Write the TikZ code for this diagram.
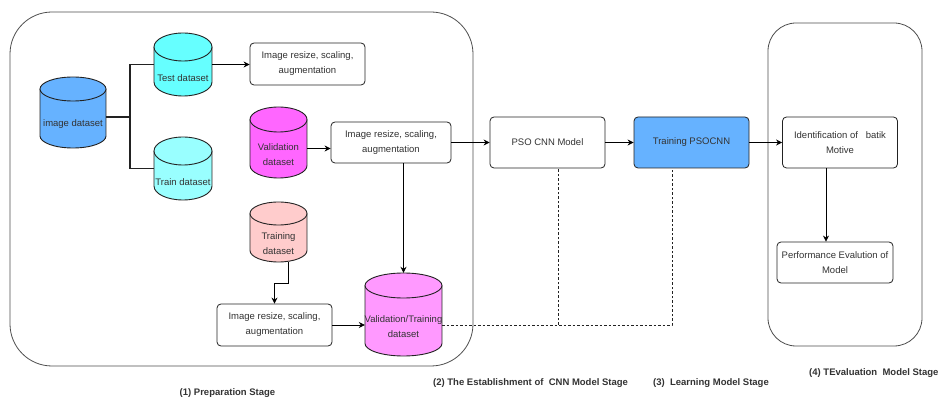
\documentclass[tikz,border=0pt]{standalone}
\usepackage{fontspec}
\setmainfont{Liberation Sans}
\usetikzlibrary{arrows.meta}

\definecolor{linec}{HTML}{222222}
\definecolor{txt}{HTML}{333333}
\definecolor{blueF}{HTML}{66B2FF}
\definecolor{cyanF}{HTML}{66FFFF}
\definecolor{lcyanF}{HTML}{99FFFF}
\definecolor{magF}{HTML}{FF66FF}
\definecolor{pinkF}{HTML}{FFCCCC}
\definecolor{lmagF}{HTML}{FF99FF}

% database cylinder: name, left, top, right, bottom, ellipse half-height, fill, label
\newcommand\dbcyl[8]{%
  \pgfmathsetmacro\cylcx{(#2+#4)/2}%
  \pgfmathsetmacro\cylrx{(#4-#2)/2}%
  \pgfmathsetmacro\cylta{#3+#6}%
  \pgfmathsetmacro\cylbe{#5-#6}%
  \pgfmathsetmacro\cylty{(#3+2*#6+#5)/2}%
  \pgfmathsetmacro\cylmy{(#3+#5)/2}%
  \pgfmathsetmacro\cylw{#4-#2}%
  \pgfmathsetmacro\cylh{#5-#3}%
  \fill[#7] (\cylcx,\cylbe) ellipse [x radius=\cylrx pt, y radius=#6 pt];
  \fill[#7] (#2,\cylta) rectangle (#4,\cylbe);
  \draw[cyledge] (#2,\cylta) -- (#2,\cylbe)
     arc [start angle=180, end angle=360, x radius=\cylrx pt, y radius=#6 pt]
     -- (#4,\cylta);
  \filldraw[cyledge, fill=#7] (\cylcx,\cylta) ellipse [x radius=\cylrx pt, y radius=#6 pt];
  \node[inner sep=0pt, minimum width=\cylw pt, minimum height=\cylh pt] (#1) at (\cylcx,\cylmy) {};
  \node[cyltext] (#1-t) at (\cylcx,\cylty) {#8};
}

\begin{document}
\begin{tikzpicture}[x=1pt, y=-1pt,
  cyledge/.style={draw=linec, line width=0.9pt},
  cyltext/.style={align=center, inner sep=0pt, text=txt, font=\fontsize{9.5}{15}\selectfont},
  procbox/.style={draw=linec, line width=0.8pt, rounded corners=4pt, fill=white,
    align=center, inner sep=0pt, text=txt, font=\fontsize{9.5}{15}\selectfont},
  stagebox/.style={draw=linec!80, line width=0.8pt},
  arr/.style={draw=black, line width=0.8pt, -{Stealth[length=6pt, width=6pt]}},
  trunk/.style={draw=linec, line width=1.8pt},
  dashln/.style={draw=linec, line width=0.8pt, dash pattern=on 2.5pt off 2pt},
  stagelabel/.style={inner sep=0pt, text=txt, font=\bfseries\fontsize{9.5}{11}\selectfont}]

\useasboundingbox (0,0) rectangle (938,398);
\fill[white] (0,0) rectangle (938,398);

% stage frames
\draw[stagebox, rounded corners=42pt] (10,12) rectangle (473,366);
\draw[stagebox, rounded corners=28pt] (768,23) rectangle (922,346);

% datasets
\dbcyl{img}{40}{77}{106}{148}{12}{blueF}{image dataset}
\dbcyl{test}{154}{33}{212}{96}{14}{cyanF}{Test dataset}
\dbcyl{train}{154}{137}{212}{200}{14}{lcyanF}{Train dataset}
\dbcyl{val}{250}{107}{307}{178}{12.5}{magF}{Validation\\dataset}
\dbcyl{trds}{250}{202}{307}{262}{11.5}{pinkF}{Training\\dataset}
\dbcyl{vt}{365}{273}{442}{356}{12.5}{lmagF}{Validation/Training\\dataset}

% process boxes
\node[procbox, minimum width=115pt, minimum height=42pt] (r1) at (307.5,64) {Image resize, scaling,\\augmentation};
\node[procbox, minimum width=120pt, minimum height=41pt] (r2) at (391,142.5) {Image resize, scaling,\\augmentation};
\node[procbox, minimum width=115pt, minimum height=42pt] (r3) at (274.5,325) {Image resize, scaling,\\augmentation};
\node[procbox, minimum width=115pt, minimum height=51pt] (pso) at (547.5,142.5) {PSO CNN Model};
\node[procbox, minimum width=115pt, minimum height=51pt, fill=blueF] (trn) at (691.5,142.5) {Training PSOCNN};
\node[procbox, minimum width=115pt, minimum height=51pt] (ident) at (840,142.5) {Identification of\ \ \ batik\\Motive};
\node[procbox, minimum width=116pt, minimum height=41pt] (perf) at (835,262.5) {Performance Evalution of\\Model};

% split of the image dataset
\coordinate (j) at (130,117);
\coordinate (jb) at (130,168.5);
\draw[trunk] (img.east |- j) -- (j);
\draw[trunk] (test.west) -| (jb) -- (train.west);

% flow arrows
\draw[arr] (test.east) -- (test.east -| r1.west);
\draw[arr] ([yshift=-6pt]val.east) -- ([yshift=-6pt]r2.west);
\draw[arr] (r2.east) -- (pso.west);
\draw[arr] (pso.east) -- (trn.west);
\draw[arr] (trn.east) -- (ident.west);
\draw[arr] ([xshift=-14pt]ident.south) -- ([xshift=-14pt]ident.south |- perf.north);
\draw[arr] (r2.south -| vt.north) -- (vt.north);
\draw[arr] ([xshift=10pt]trds.south) -- ++(0,21) -| (r3.north);
\draw[arr] (r3.east) -- (r3.east -| vt.west);

% dashed feedback lines
\coordinate (dk) at (672,325);
\coordinate (dp) at (558,325);
\draw[dashln] (vt.east |- dk) -- (dk) -- (dk |- trn.south);
\draw[dashln] (dp) -- (dp |- pso.south);

% stage captions
\node[stagelabel] (lab1) at (227.5,393) {(1) Preparation Stage};
\node[stagelabel, anchor=west] (lab2) at (433,383) {(2) The Establishment of\ \ CNN Model Stage};
\node[stagelabel, anchor=west] (lab3) at (653,383) {(3)\ \ Learning Model Stage};
\node[stagelabel, anchor=west] (lab4) at (809,373) {(4) TEvaluation\ \ Model Stage};
\end{tikzpicture}
\end{document}
